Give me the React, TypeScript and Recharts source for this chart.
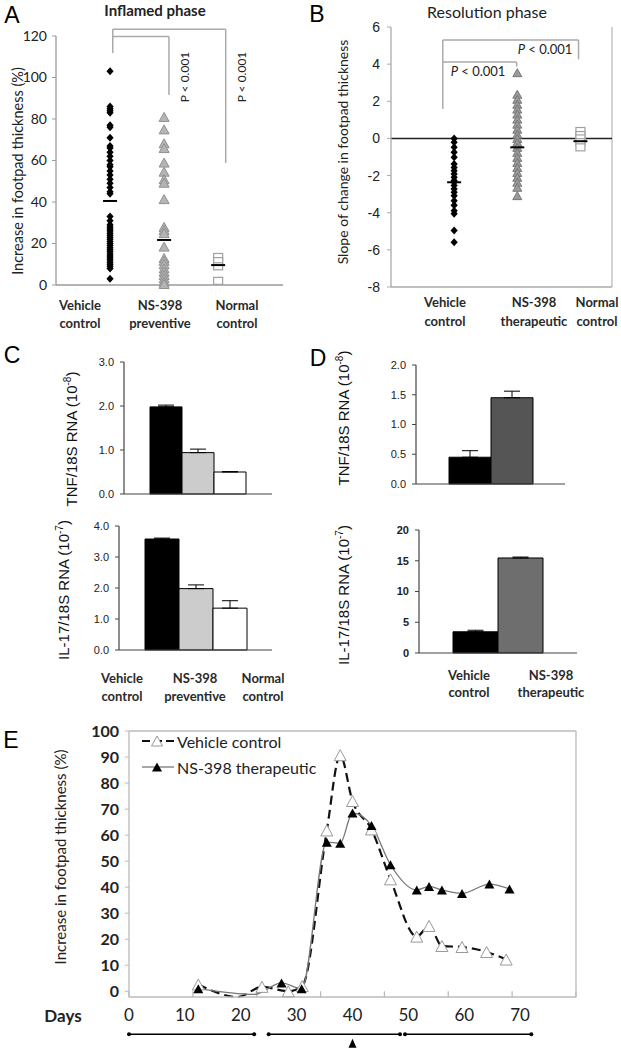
import React from 'react';
import {
  ScatterChart,
  Scatter,
  XAxis,
  YAxis,
  ReferenceLine,
  ReferenceDot,
  BarChart,
  Bar,
  ErrorBar,
  LineChart,
  Line,
} from 'recharts';

const CALIBRI = 'Lato, "Open Sans", sans-serif';
const ARIAL = '"Liberation Sans", Arial, sans-serif';

// Panel A - inflamed phase (% increase in footpad thickness)
const aGroups = ['Vehicle control', 'NS-398 preventive', 'Normal control'];
const aVehicle = [103, 86, 85, 84, 83, 77, 76, 71, 67, 66, 64, 62, 60, 58, 57, 55, 53, 51, 49, 47, 45, 44,
  33, 31, 29, 28, 27, 26, 25, 24, 23, 22, 21, 20, 19, 18, 17, 16, 15, 14, 13, 12, 11, 10, 9, 8, 3];
const aPreventive = [81, 75, 68.3, 66, 59, 54.6, 51, 49.3, 41.4, 28, 26.5, 25, 18.5, 13, 11.7, 10, 8, 6.4, 4.8, 3.2, 1.6, 0.5];
const aNormal = [13.5, 11.5, 9, 2];
const aMeans = [40.5, 21.7, 9.6];
const aTicks = [0, 20, 40, 60, 80, 100, 120];
const aBrackets = [
  [{ x: 1.05, y: 123.3 }, { x: 1.05, y: 111.8 }],
  [{ x: 1.05, y: 123.3 }, { x: 3.14, y: 123.3 }],
  [{ x: 3.14, y: 123.3 }, { x: 3.14, y: 58.8 }],
  [{ x: 1.05, y: 119.7 }, { x: 2.09, y: 119.7 }],
  [{ x: 2.09, y: 119.7 }, { x: 2.09, y: 91.6 }],
];

// Panel B - resolution phase (slope)
const bGroups = ['Vehicle control', 'NS-398 therapeutic', 'Normal control'];
const bVehicle = [0, -0.21, -0.48, -0.75, -1.02, -1.38, -1.56, -1.74, -1.91, -2.09, -2.27, -2.36, -2.54, -2.72,
  -2.9, -3.08, -3.35, -3.6, -3.89, -4.06, -4.96, -5.59];
const bTherapeutic = [3.54, 2.38, 2.11, 1.84, 1.58, 1.31, 1.04, 0.77, 0.5, 0.23, 0, -0.21, -0.48, -0.75, -1.02,
  -1.29, -1.56, -1.83, -2.09, -2.36, -2.63, -3.08];
const bNormal = [0.4, 0.18, 0, -0.2, -0.48];
const bMeans = [-2.36, -0.48, -0.15];
const bTicks = [-8, -6, -4, -2, 0, 2, 4, 6];
const bBrackets = [
  [{ x: 0.82, y: 5.3 }, { x: 0.82, y: 1.58 }],
  [{ x: 0.82, y: 5.3 }, { x: 2.97, y: 5.3 }],
  [{ x: 2.97, y: 5.3 }, { x: 2.97, y: 4.26 }],
  [{ x: 0.82, y: 4.11 }, { x: 1.99, y: 4.11 }],
  [{ x: 1.99, y: 4.11 }, { x: 1.99, y: 3.87 }],
];

// Panel C - preventive, RNA levels
const cGroups = ['Vehicle control', 'NS-398 preventive', 'Normal control'];
const cTnfMeans = [1.98, 0.94, 0.5];
const cTnfErr = [0.04, 0.08, 0.01];
const cIl17Means = [3.58, 1.98, 1.35];
const cIl17Err = [0.03, 0.12, 0.24];
const cColors = ['#000000', '#cccccc', '#ffffff'];

// Panel D - therapeutic, RNA levels
const dGroups = ['Vehicle control', 'NS-398 therapeutic'];
const dTnfMeans = [0.45, 1.45];
const dTnfErr = [0.11, 0.11];
const dIl17Means = [3.45, 15.45];
const dIl17Err = [0.25, 0.15];

// Panel E - time course
const eVehicleDays = [12.4, 19.5, 23.8, 28.5, 31, 35.4, 37.8, 40, 43.4, 46.8, 51.5, 53.7, 56, 59.6, 64, 67.5];
const eVehicleValues = [2.6, -2.2, 1.7, 0, 2, 61.8, 90.7, 73.1, 62.2, 43, 21, 25.1, 17.4, 17, 15.1, 12.2];
const eTherapeuticDays = [12.4, 22.5, 27.3, 30.9, 35.4, 37.8, 40, 43.4, 46.8, 51.5, 53.7, 56, 59.6, 64.5, 68.1];
const eTherapeuticValues = [1, -1.2, 3.2, 1, 57.3, 56.9, 68.5, 63.7, 48.6, 38.9, 40.3, 38.9, 37.6, 41.2, 39.3];
const eDayTicks = [0, 10, 20, 30, 40, 50, 60, 70];
const eValueTicks = [0, 10, 20, 30, 40, 50, 60, 70, 80, 90, 100];
const eFrameTicks = [0, 11.43, 22.86, 34.29, 45.71, 57.14, 68.57, 80];
const eTimeline = [[0, 22.4], [25, 48.5], [49.4, 72]];
const eArrowDay = 40;

const triUp = (cx: number, cy: number, w: number, h: number) =>
  `${cx},${cy - h / 2} ${cx + w / 2},${cy + h / 2} ${cx - w / 2},${cy + h / 2}`;

const Txt = ({ x, y, rotate, style, children }: any) => (
  <div
    style={{
      position: 'absolute',
      left: x,
      top: y,
      transform: `translate(-50%, -50%)${rotate ? ' rotate(-90deg)' : ''}`,
      whiteSpace: 'nowrap',
      lineHeight: 1,
      textAlign: 'center',
      ...style,
    }}
  >
    {children}
  </div>
);

const twoLines = (s: string) => {
  const [a, b] = s.split(' ');
  return (
    <>
      {a}
      <br />
      {b}
    </>
  );
};

const column = (values: number[], x: number) => values.map((v) => ({ x, y: v }));

// scatter markers
const diamond = (p: any) => (
  <polygon points={`${p.cx},${p.cy - 4} ${p.cx + 3.6},${p.cy} ${p.cx},${p.cy + 4} ${p.cx - 3.6},${p.cy}`} fill="#000" />
);
const greyTriA = (p: any) => <polygon points={triUp(p.cx, p.cy, 10, 9)} fill="#b5b5b5" stroke="#909090" strokeWidth={1} />;
const greyTriB = (p: any) => <polygon points={triUp(p.cx, p.cy, 9, 8)} fill="#9a9a9a" stroke="#777" strokeWidth={1} />;
const openSquare = (p: any) => (
  <rect x={p.cx - 4.5} y={p.cy - 3.5} width={9} height={7} fill="#fff" stroke="#a0a0a0" strokeWidth={1.2} />
);
const meanBar = (p: any) => <line x1={p.cx - 7} x2={p.cx + 7} y1={p.cy} y2={p.cy} stroke="#000" strokeWidth={2} />;

const RnaBars = ({ means, errs, colors, domain, ticks, digits, width, height, margin, yWidth, barSize }: any) => {
  const row: any = { name: 'g' };
  means.forEach((m: number, i: number) => {
    row['s' + i] = m;
    row['e' + i] = [0, errs[i]];
  });
  return (
    <BarChart width={width} height={height} data={[row]} margin={margin} barGap={0}>
      <XAxis dataKey="name" tick={false} tickLine={false} height={1} axisLine={{ stroke: '#444', strokeWidth: 1.2 }} />
      <YAxis
        type="number"
        domain={domain}
        ticks={ticks}
        interval={0}
        width={yWidth}
        tickFormatter={(v: number) => v.toFixed(digits)}
        tickSize={4}
        tickMargin={6}
        axisLine={{ stroke: '#444', strokeWidth: 1.2 }}
        tickLine={{ stroke: '#444' }}
        tick={{ fontSize: 11, fill: '#222', fontFamily: ARIAL, fontWeight: digits ? 'normal' : 'bold' }}
      />
      {means.map((_: number, i: number) => (
        <Bar key={i} dataKey={'s' + i} fill={colors[i]} stroke="#000" strokeWidth={1} barSize={barSize} isAnimationActive={false}>
          <ErrorBar dataKey={'e' + i} width={8} stroke="#000" strokeWidth={1} direction="y" isAnimationActive={false} />
        </Bar>
      ))}
    </BarChart>
  );
};

const ELegend = () => (
  <div style={{ position: 'absolute', left: 141, top: 728, fontFamily: CALIBRI, fontSize: 16, color: '#222' }}>
    <div style={{ display: 'flex', alignItems: 'center', height: 26 }}>
      <svg width={34} height={14}>
        <line x1={1} x2={33} y1={7} y2={7} stroke="#111" strokeWidth={2} strokeDasharray="8 4" />
        <polygon points={triUp(16, 7, 11, 10)} fill="#fff" stroke="#999" />
      </svg>
      <span style={{ marginLeft: 2 }}>Vehicle control</span>
    </div>
    <div style={{ display: 'flex', alignItems: 'center', height: 26 }}>
      <svg width={34} height={14}>
        <line x1={1} x2={33} y1={7} y2={7} stroke="#777" strokeWidth={1.3} />
        <polygon points={triUp(16, 7, 10, 9)} fill="#000" />
      </svg>
      <span style={{ marginLeft: 2 }}>NS-398 therapeutic</span>
    </div>
  </div>
);

const vehicleDot = (hidden: number[]) => (p: any) =>
  hidden.includes(p.index) ? (
    <g key={p.index} />
  ) : (
    <polygon key={p.index} points={triUp(p.cx, p.cy, 12, 11)} fill="#fff" stroke="#999" strokeWidth={1} />
  );
const therapeuticDot = (hidden: number[]) => (p: any) =>
  hidden.includes(p.index) ? <g key={p.index} /> : <polygon key={p.index} points={triUp(p.cx, p.cy, 10, 9)} fill="#000" />;

export default function App() {
  const eVehicle = eVehicleDays.map((d, i) => ({ day: d, value: eVehicleValues[i] }));
  const eTherapeutic = eTherapeuticDays.map((d, i) => ({ day: d, value: eTherapeuticValues[i] }));
  const letter = { fontFamily: ARIAL, fontSize: 23, color: '#000' };
  const catStyle = { fontFamily: CALIBRI, fontSize: 13, fontWeight: 'bold', color: '#2a2a2a', lineHeight: '18px' };

  return (
    <div style={{ position: 'absolute', left: 0, top: 0, width: 621, height: 1050, background: '#fff', overflow: 'hidden' }}>
      {/* A */}
      <div style={{ position: 'absolute', left: 0, top: 0 }}>
        <ScatterChart width={310} height={330} margin={{ top: 36, right: 27, bottom: 0, left: 0 }}>
          <XAxis type="number" dataKey="x" domain={[0, 4.2]} allowDataOverflow tick={false} tickLine={false} height={45}
            axisLine={{ stroke: '#9a9a9a', strokeWidth: 1.3 }} />
          <YAxis type="number" dataKey="y" domain={[0, 120]} ticks={aTicks} interval={0} width={56} tickSize={4} tickMargin={5}
            axisLine={{ stroke: '#9a9a9a', strokeWidth: 1.3 }} tickLine={{ stroke: '#9a9a9a' }}
            tick={{ fontSize: 14, fill: '#222', fontFamily: CALIBRI }} />
          {aBrackets.map((seg, i) => (
            <ReferenceLine key={i} segment={seg} stroke="#aaa" strokeWidth={1.5} ifOverflow="visible" />
          ))}
          <Scatter data={column(aVehicle, 1)} shape={diamond} isAnimationActive={false} />
          <Scatter data={column(aPreventive, 2)} shape={greyTriA} isAnimationActive={false} />
          <Scatter data={column(aNormal, 3)} shape={openSquare} isAnimationActive={false} />
          <Scatter data={aMeans.map((m, i) => ({ x: i + 1, y: m }))} shape={meanBar} isAnimationActive={false} />
        </ScatterChart>
      </div>

      {/* B */}
      <div style={{ position: 'absolute', left: 310, top: 0 }}>
        <ScatterChart width={311} height={330} margin={{ top: 27, right: 9, bottom: 0, left: 0 }}>
          <XAxis type="number" dataKey="x" domain={[0, 3.5]} allowDataOverflow tick={false} tickLine={false} height={43}
            axisLine={{ stroke: '#aaa', strokeWidth: 1.3 }} />
          <YAxis type="number" dataKey="y" domain={[-8, 6]} ticks={bTicks} interval={0} width={81} tickSize={4} tickMargin={7}
            axisLine={{ stroke: '#aaa', strokeWidth: 1.3 }} tickLine={{ stroke: '#aaa' }}
            tick={{ fontSize: 14, fill: '#222', fontFamily: ARIAL }} />
          <ReferenceLine x={3.5} stroke="#bbb" strokeWidth={1.3} />
          <ReferenceLine y={0} stroke="#222" strokeWidth={1.5} />
          {bBrackets.map((seg, i) => (
            <ReferenceLine key={i} segment={seg} stroke="#aaa" strokeWidth={1.5} ifOverflow="visible" />
          ))}
          <Scatter data={column(bVehicle, 1)} shape={diamond} isAnimationActive={false} />
          <Scatter data={column(bTherapeutic, 2)} shape={greyTriB} isAnimationActive={false} />
          <Scatter data={column(bNormal, 3)} shape={openSquare} isAnimationActive={false} />
          <Scatter data={bMeans.map((m, i) => ({ x: i + 1, y: m }))} shape={meanBar} isAnimationActive={false} />
        </ScatterChart>
      </div>

      {/* C */}
      <div style={{ position: 'absolute', left: 0, top: 350 }}>
        <RnaBars means={cTnfMeans} errs={cTnfErr} colors={cColors} domain={[0, 3]} ticks={[0, 1, 2, 3]} digits={1}
          width={310} height={150} margin={{ top: 12, right: 38, bottom: 5, left: 0 }} yWidth={124} barSize={32} />
      </div>
      <div style={{ position: 'absolute', left: 0, top: 515 }}>
        <RnaBars means={cIl17Means} errs={cIl17Err} colors={cColors} domain={[0, 4]} ticks={[0, 1, 2, 3, 4]} digits={1}
          width={310} height={145} margin={{ top: 11, right: 38, bottom: 9, left: 0 }} yWidth={119} barSize={34} />
      </div>

      {/* D */}
      <div style={{ position: 'absolute', left: 310, top: 350 }}>
        <RnaBars means={dTnfMeans} errs={dTnfErr} colors={['#000', '#555']} domain={[0, 2]} ticks={[0, 0.5, 1, 1.5, 2]} digits={1}
          width={311} height={140} margin={{ top: 15, right: 56, bottom: 5, left: 0 }} yWidth={106} barSize={42} />
      </div>
      <div style={{ position: 'absolute', left: 310, top: 515 }}>
        <RnaBars means={dIl17Means} errs={dIl17Err} colors={['#000', '#6e6e6e']} domain={[0, 20]} ticks={[0, 5, 10, 15, 20]} digits={0}
          width={311} height={145} margin={{ top: 15, right: 44, bottom: 6, left: 0 }} yWidth={109} barSize={45} />
      </div>

      {/* E */}
      <div style={{ position: 'absolute', left: 0, top: 720 }}>
        <LineChart width={621} height={330} margin={{ top: 11, right: 45, bottom: 0, left: 0 }}>
          <XAxis type="number" dataKey="day" domain={[0, 80]} allowDataOverflow ticks={eDayTicks} interval={0}
            axisLine={{ stroke: '#bbb', strokeWidth: 1.3 }} tickLine={false} tickSize={0} tickMargin={12} height={53}
            tick={{ fontSize: 17, fill: '#222', fontFamily: CALIBRI }} />
          <YAxis type="number" domain={[0, 100]} ticks={eValueTicks} interval={0} width={129} tickSize={4} tickMargin={6}
            axisLine={{ stroke: '#bbb', strokeWidth: 1.3 }} tickLine={{ stroke: '#bbb' }}
            tick={{ fontSize: 16, fill: '#222', fontFamily: CALIBRI, fontWeight: 'bold' }} />
          <ReferenceLine y={100} stroke="#bbb" strokeWidth={1.3} />
          <ReferenceLine x={80} stroke="#bbb" strokeWidth={1.3} />
          {eFrameTicks.map((d) => (
            <ReferenceLine key={'f' + d} segment={[{ x: d, y: 0 }, { x: d, y: -2.3 }]} stroke="#bbb" strokeWidth={1.3}
              ifOverflow="visible" />
          ))}
          {eTimeline.map(([a, b], i) => (
            <ReferenceLine key={'t' + i} segment={[{ x: a, y: -16.5 }, { x: b, y: -16.5 }]}
              stroke="#000" strokeWidth={1.5} ifOverflow="visible" />
          ))}
          {eTimeline.flat().map((d, i) => (
            <ReferenceDot key={'d' + i} x={d} y={-16.5} r={2} fill="#000" stroke="none" ifOverflow="visible" />
          ))}
          <ReferenceDot x={eArrowDay} y={-20} ifOverflow="visible"
            shape={(p: any) => <polygon points={triUp(p.cx, p.cy, 8, 9)} fill="#000" />} />
          <Line data={eVehicle} dataKey="value" type="monotone" stroke="#111" strokeWidth={2.2}
            strokeDasharray="9 5" dot={vehicleDot([1])} activeDot={false} isAnimationActive={false} />
          <Line data={eTherapeutic} dataKey="value" type="monotone" stroke="#777" strokeWidth={1.3}
            dot={therapeuticDot([1])} activeDot={false} isAnimationActive={false} />
        </LineChart>
      </div>
      <ELegend />

      {/* panel letters and titles */}
      <Txt x={12} y={15} style={letter}>A</Txt>
      <Txt x={317} y={14} style={letter}>B</Txt>
      <Txt x={12} y={355} style={letter}>C</Txt>
      <Txt x={318} y={358} style={letter}>D</Txt>
      <Txt x={11} y={740} style={letter}>E</Txt>
      <Txt x={155} y={10} style={{ fontFamily: CALIBRI, fontSize: 15, fontWeight: 'bold', color: '#222' }}>Inflamed phase</Txt>
      <Txt x={487} y={12} style={{ fontFamily: CALIBRI, fontSize: 16, color: '#222' }}>Resolution phase</Txt>

      {/* axis titles */}
      <Txt x={18} y={171} rotate style={{ fontFamily: CALIBRI, fontSize: 14.5, color: '#222' }}>Increase in footpad thickness (%)</Txt>
      <Txt x={343} y={152} rotate style={{ fontFamily: CALIBRI, fontSize: 14, color: '#222' }}>Slope of change in footpad thickness</Txt>
      <Txt x={71} y={439} rotate style={{ fontFamily: ARIAL, fontSize: 15, color: '#111' }}>
        TNF/18S RNA (10<sup style={{ fontSize: 10 }}>-8</sup>)
      </Txt>
      <Txt x={63} y={590} rotate style={{ fontFamily: ARIAL, fontSize: 15, color: '#111' }}>
        IL-17/18S RNA (10<sup style={{ fontSize: 10 }}>-7</sup>)
      </Txt>
      <Txt x={343} y={418} rotate style={{ fontFamily: ARIAL, fontSize: 15, color: '#111' }}>
        TNF/18S RNA (10<sup style={{ fontSize: 10 }}>-8</sup>)
      </Txt>
      <Txt x={343} y={595} rotate style={{ fontFamily: ARIAL, fontSize: 15, color: '#111' }}>
        IL-17/18S RNA (10<sup style={{ fontSize: 10 }}>-7</sup>)
      </Txt>
      <Txt x={60} y={857} rotate style={{ fontFamily: CALIBRI, fontSize: 15, color: '#222' }}>Increase in footpad thickness (%)</Txt>
      <Txt x={63} y={1015} style={{ fontFamily: CALIBRI, fontSize: 17, fontWeight: 'bold', color: '#222' }}>Days</Txt>

      {/* p values */}
      <Txt x={185} y={77} rotate style={{ fontFamily: CALIBRI, fontSize: 12, color: '#222' }}>P &lt; 0.001</Txt>
      <Txt x={242} y={77} rotate style={{ fontFamily: CALIBRI, fontSize: 12, color: '#222' }}>P &lt; 0.001</Txt>
      <Txt x={545} y={49} style={{ fontFamily: CALIBRI, fontSize: 13, color: '#222' }}><i>P</i> &lt; 0.001</Txt>
      <Txt x={478} y={71} style={{ fontFamily: CALIBRI, fontSize: 13, color: '#222' }}><i>P</i> &lt; 0.001</Txt>

      {/* group labels */}
      {aGroups.map((g, i) => (
        <Txt key={'a' + i} x={[80, 160, 237][i]} y={314} style={catStyle}>{twoLines(g)}</Txt>
      ))}
      {bGroups.map((g, i) => (
        <Txt key={'b' + i} x={[445, 534, 597][i]} y={312} style={{ ...catStyle, lineHeight: '19px' }}>{twoLines(g)}</Txt>
      ))}
      {cGroups.map((g, i) => (
        <Txt key={'c' + i} x={[122, 195, 263][i]} y={687} style={catStyle}>{twoLines(g)}</Txt>
      ))}
      {dGroups.map((g, i) => (
        <Txt key={'d' + i} x={[469, 551][i]} y={684} style={{ ...catStyle, lineHeight: '17px' }}>{twoLines(g)}</Txt>
      ))}
    </div>
  );
}
